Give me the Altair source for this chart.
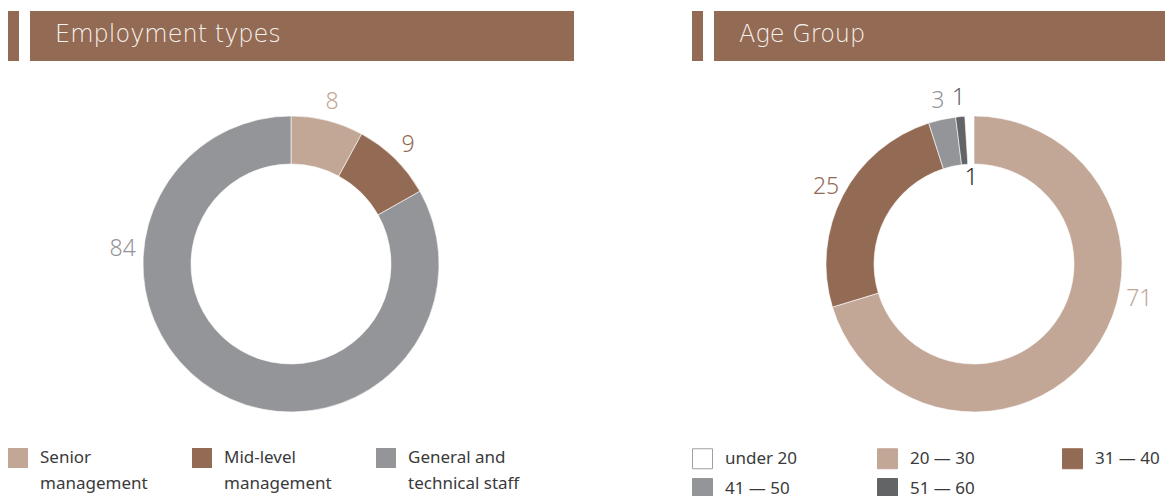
import altair as alt
import pandas as pd

# ---- data ----
panel_titles = ["Employment types", "Age Group"]

emp_categories = ["Senior\nmanagement", "Mid-level\nmanagement", "General and\ntechnical staff"]
emp_values = [8, 9, 84]
emp_colors = ["#C2A696", "#936A53", "#939598"]

age_categories = ["under 20", "20 \u2014 30", "31 \u2014 40", "41 \u2014 50", "51 \u2014 60"]
age_values = [1, 71, 25, 3, 1]
age_colors = ["#FFFFFF", "#C2A696", "#936A53", "#939598", "#636466"]
age_symbol_strokes = ["#A0A0A0", "#C2A696", "#936A53", "#939598", "#636466"]
# clockwise drawing order from 12 o'clock
age_draw_order = [4, 0, 1, 2, 3]

TITLE_FONT = "DejaVu Sans"
FONT = "Noto Sans"
BROWN = "#936A53"

emp_df = pd.DataFrame({"category": emp_categories, "value": emp_values,
                       "ord": list(range(len(emp_categories)))})
age_df = pd.DataFrame({"category": age_categories, "value": age_values,
                       "ord": age_draw_order})
one = pd.DataFrame({"k": [0]})


def header(x0, x1, title):
    sq = alt.Chart(one).mark_rect(color=BROWN).encode(
        x=alt.value(x0), x2=alt.value(x0 + 11), y=alt.value(3), y2=alt.value(53))
    bar = alt.Chart(one).mark_rect(color=BROWN).encode(
        x=alt.value(x0 + 22), x2=alt.value(x1), y=alt.value(3), y2=alt.value(53))
    txt = alt.Chart(one).mark_text(
        align="left", baseline="middle", fontSize=24, font=TITLE_FONT, fontWeight=200,
        color="#F7F2EE").encode(
        x=alt.value(x0 + 47), y=alt.value(27), text=alt.value(title))
    return [sq, bar, txt]


def donut(df, cats, colors, cx, cy, legend, shifted_cat, shift):
    color = alt.Color("category:N", scale=alt.Scale(domain=cats, range=colors),
                      legend=legend)
    base = alt.Chart(df).encode(
        theta=alt.Theta("value:Q", stack=True),
        order=alt.Order("ord:Q"),
        color=color,
        x=alt.value(cx), y=alt.value(cy),
    )
    arc = base.mark_arc(innerRadius=100, outerRadius=148, stroke="#FFFFFF",
                        strokeWidth=0.6)
    hide = (alt.datum.category == "under 20") | (alt.datum.category == shifted_cat)
    lab = base.mark_text(radius=167, fontSize=23, font=FONT, fontWeight=300).encode(
        text="value:Q",
        opacity=alt.condition(hide, alt.value(0), alt.value(1)),
    )
    lab_shift = base.mark_text(radius=169, fontSize=23, font=FONT, fontWeight=300,
                               thetaOffset=shift).encode(
        text="value:Q",
        opacity=alt.condition(alt.datum.category == shifted_cat, alt.value(1), alt.value(0)),
    )
    return arc, lab, lab_shift


emp_legend = alt.Legend(
    orient="none", legendX=0, legendY=440, direction="horizontal", columns=3,
    title=None, symbolType="square", symbolSize=400, symbolStrokeWidth=0,
    labelFontSize=17, labelFont=FONT, labelColor="#3A3A3A", labelOffset=12,
    labelLimit=0, gridAlign="all", columnPadding=40, labelBaseline="middle",
    labelExpr="split(datum.label, '\\n')",
)
age_legend = alt.Legend(
    orient="none", legendX=684, legendY=440, direction="horizontal", columns=3,
    title=None, symbolType="square", symbolSize=400, symbolStrokeWidth=1,
    labelFontSize=17, labelFont=FONT, labelColor="#3A3A3A", labelOffset=12,
    labelLimit=0, gridAlign="all", columnPadding=78, rowPadding=5,
)

emp_arc, emp_lab, emp_lab2 = donut(emp_df, emp_categories, emp_colors, 283, 256,
                                   emp_legend, emp_categories[2], 1.13)
age_arc, age_lab, age_lab2 = donut(age_df, age_categories, age_colors, 966, 256,
                                   age_legend, age_categories[1], -0.43)

# carrier of the symbol outlines in the age legend (drawn off-canvas)
age_legend_carrier = alt.Chart(age_df).mark_point(shape="square", filled=True, size=1).encode(
    x=alt.value(-60), y=alt.value(-60),
    color=alt.Color("category:N", scale=alt.Scale(domain=age_categories, range=age_colors),
                    legend=age_legend),
    stroke=alt.Stroke("category:N",
                      scale=alt.Scale(domain=age_categories, range=age_symbol_strokes),
                      legend=age_legend),
)

age_inner = alt.Chart(age_df).mark_text(radius=86, fontSize=23, font=FONT,
                                        fontWeight=300, color="#2A2A2A").encode(
    theta=alt.Theta("value:Q", stack=True),
    order=alt.Order("ord:Q"),
    x=alt.value(966), y=alt.value(256),
    text="value:Q",
    opacity=alt.condition(alt.datum.category == "under 20", alt.value(1), alt.value(0)),
)

emp_layer = alt.layer(emp_arc, emp_lab, emp_lab2)
age_layer = alt.layer(age_arc, age_lab, age_lab2, age_inner, age_legend_carrier)

chart = alt.layer(
    *header(0, 566, panel_titles[0]),
    *header(684, 1157, panel_titles[1]),
    emp_layer, age_layer,
).resolve_scale(color="independent", stroke="independent", theta="independent").properties(
    width=1157, height=488, padding=0,
    autosize=alt.AutoSizeParams(type="none"),
).configure(
    style={"guide-label": {"lineHeight": 26}},
    view={"strokeWidth": 0, "stroke": "transparent"},
)

chart.save("out.html", embed_options={"renderer": "svg", "actions": False})
